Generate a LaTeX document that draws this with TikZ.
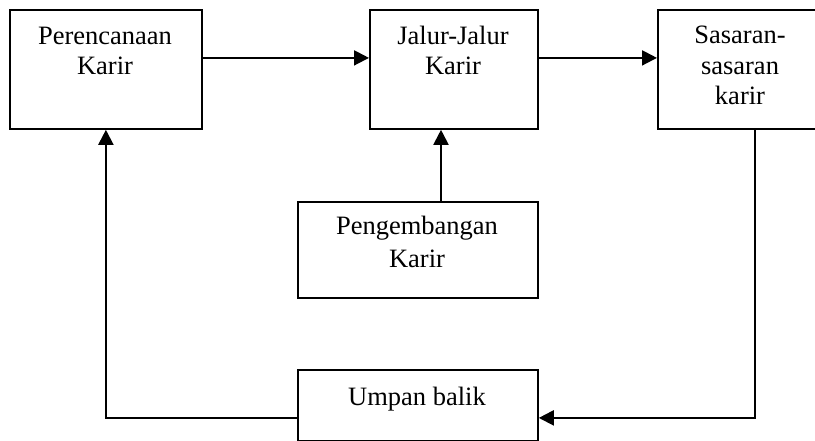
\documentclass[tikz,border=0pt]{standalone}
\usepackage{fontspec}
\setmainfont{Liberation Serif}
\usetikzlibrary{arrows.meta}
\begin{document}
\begin{tikzpicture}[x=1pt,y=-1pt,
  box/.style={draw=black, line width=1.8pt, anchor=north west, inner sep=0pt},
  txt/.style={anchor=base, align=center, inner sep=0pt, font=\fontsize{26.5}{30.5}\selectfont},
  conn/.style={draw=black, line width=2pt, -{Triangle[length=15pt,width=15pt]}}]
\path[use as bounding box] (0,0) rectangle (815,441);
\node[box, minimum width=192pt, minimum height=119pt] (per) at (9,9) {};
\node[box, minimum width=168pt, minimum height=119pt] (jal) at (369,9) {};
\node[box, minimum width=166pt, minimum height=119pt] (sas) at (657,9) {};
\node[box, minimum width=240pt, minimum height=96pt] (pen) at (297,201) {};
\node[box, minimum width=240pt, minimum height=71pt] (ump) at (297,369) {};
\node[txt] (perT) at (105,75) {Perencanaan\\Karir};
\node[txt] (jalT) at (453,75) {Jalur-Jalur\\Karir};
\node[txt] (sasT) at (740,105) {Sasaran-\\sasaran\\karir};
\node[txt, font=\fontsize{26.5}{33}\selectfont] (penT) at (417,268) {Pengembangan\\Karir};
\node[txt] (umpT) at (417,405) {Umpan balik};
\coordinate (vx) at (441,0);
\draw[conn] ([yshift=11.5pt]per.east) -- ([yshift=11.5pt]jal.west);
\draw[conn] ([yshift=11.5pt]jal.east) -- ([yshift=11.5pt]sas.west);
\draw[conn] (pen.north -| vx) -- (jal.south -| vx);
\draw[conn] ([xshift=14pt]sas.south) |- ([yshift=-12.5pt]ump.east);
\draw[conn] ([yshift=-12.5pt]ump.west) -| (per.south);
\end{tikzpicture}
\end{document}
